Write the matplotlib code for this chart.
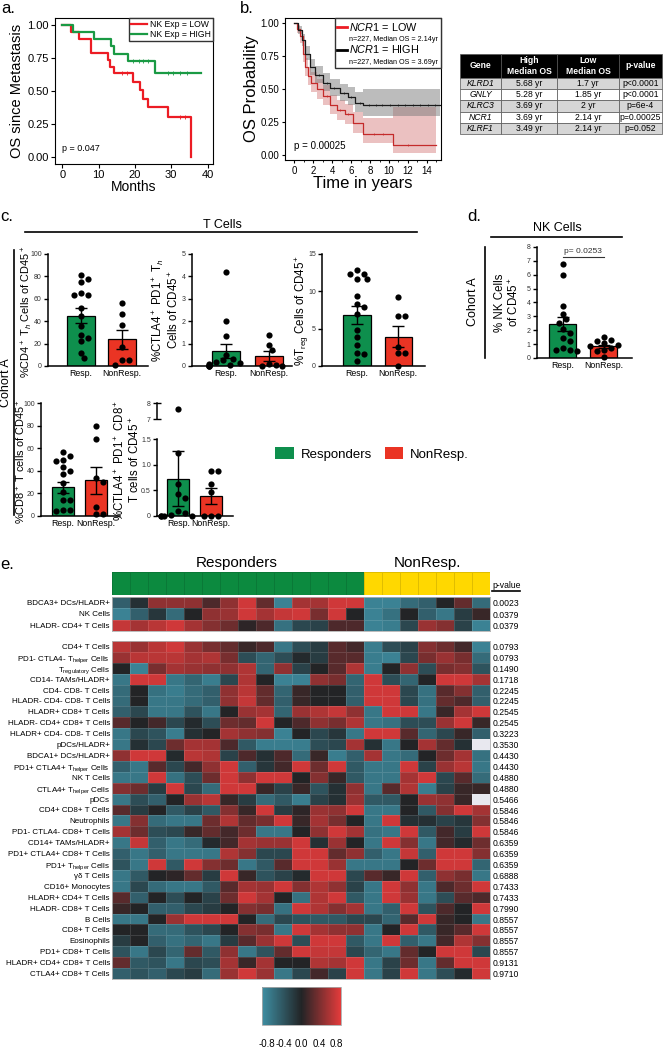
import numpy as np
import matplotlib
matplotlib.use('Agg')
import matplotlib.pyplot as plt
from matplotlib.colors import LinearSegmentedColormap, ListedColormap
from matplotlib.lines import Line2D
from matplotlib.patches import Patch

W, H = 663, 1050
plt.rcParams.update({'font.family': ['Liberation Sans', 'DejaVu Sans'],
                     'mathtext.fontset': 'custom',
                     'mathtext.rm': 'Liberation Sans',
                     'mathtext.it': 'Liberation Sans:italic',
                     'mathtext.bf': 'Liberation Sans:bold'})

KM_RED = '#ec1c24'
KM_GREEN = '#1a9a44'
RESP_GREEN = '#0e8f4d'
NONRESP_RED = '#ea3424'
HEAD_GREEN = '#0c8a3f'
HEAD_YELLOW = '#ffd800'

# ---- a. KM, NK expression ----
a_low_t = [0, 2.3, 4.7, 7.8, 12.5, 13.1, 14.3, 19.4, 21.4, 22.1, 23.7, 29.2, 35.4, 35.4]
a_low_s = [1.0, 0.947, 0.895, 0.789, 0.737, 0.684, 0.632, 0.568, 0.505, 0.442, 0.379, 0.303, 0.0, 0.0]
a_low_cens = [16.4, 17.7, 32.5, 33.9]
a_high_t = [0, 3.0, 8.6, 13.4, 14.3, 18.0, 25.6, 38.3]
a_high_s = [1.0, 0.947, 0.895, 0.842, 0.779, 0.725, 0.635, 0.635]
a_high_cens = [19.6, 21.0, 22.3, 23.7, 29.2, 30.6, 32.5, 34.3]

# ---- b. KM, NCR1 ----
b_low_t = [0, 0.3, 0.6, 0.9, 1.1, 1.4, 1.8, 2.35, 3.05, 3.75, 4.45, 5.3, 6.2, 7.2, 10.4, 15.0]
b_low_s = [1.0, 0.96, 0.90, 0.77, 0.67, 0.60, 0.55, 0.50, 0.45, 0.38, 0.345, 0.31, 0.245, 0.16, 0.08, 0.08]
b_low_lo = [1.0, 0.93, 0.85, 0.71, 0.60, 0.53, 0.48, 0.43, 0.38, 0.31, 0.27, 0.24, 0.17, 0.09, 0.02, 0.02]
b_low_hi = [1.0, 0.99, 0.95, 0.83, 0.74, 0.67, 0.63, 0.58, 0.53, 0.46, 0.42, 0.39, 0.33, 0.28, 0.37, 0.37]
b_low_cens = [3.4, 4.8, 5.7, 8.4, 9.4, 12.0]
b_high_t = [0, 0.4, 0.77, 1.1, 1.65, 2.2, 3.05, 3.75, 4.8, 5.7, 6.4, 7.3, 15.4]
b_high_s = [1.0, 0.95, 0.87, 0.77, 0.67, 0.61, 0.55, 0.51, 0.47, 0.445, 0.40, 0.385, 0.385]
b_high_lo = [1.0, 0.92, 0.83, 0.72, 0.61, 0.55, 0.49, 0.45, 0.41, 0.38, 0.33, 0.30, 0.30]
b_high_hi = [1.0, 0.98, 0.92, 0.83, 0.73, 0.68, 0.62, 0.58, 0.54, 0.52, 0.48, 0.50, 0.50]
b_high_cens = [2.6, 3.4, 4.2, 5.2, 6.0, 6.9, 7.9, 8.6, 9.3, 10.1, 10.9, 11.7, 12.5, 13.3, 14.1, 14.9]

# ---- table ----
tbl_header = ['Gene', 'High\nMedian OS', 'Low\nMedian OS', 'p-value']
tbl_genes = ['KLRD1', 'GNLY', 'KLRC3', 'NCR1', 'KLRF1']
tbl_high = ['5.68 yr', '5.28 yr', '3.69 yr', '3.69 yr', '3.49 yr']
tbl_low = ['1.7 yr', '1.85 yr', '2 yr', '2.14 yr', '2.14 yr']
tbl_p = ['p<0.0001', 'p<0.0001', 'p=6e-4', 'p=0.00025', 'p=0.052']

# ---- c./d. flow cytometry (Resp., NonResp.) ----
cd4_resp = [81, 78, 75, 65, 63, 63, 52, 45, 36, 28, 25, 22, 12, 7]
cd4_non = [56, 46, 37, 17, 5, 5, 0.5]
cd4_mean, cd4_sem = [45, 24], [7, 8.5]
ctla_th_resp = [4.2, 2.0, 1.35, 0.5, 0.3, 0.25, 0.2, 0.15, 0.1, 0.05, 0.05, 0.0, 0.0, 0.0]
ctla_th_non = [1.4, 0.95, 0.7, 0.1, 0.05, 0.0, 0.0]
ctla_th_mean, ctla_th_sem = [0.68, 0.43], [0.31, 0.22]
treg_resp = [12.9, 12.3, 12.3, 11.7, 11.6, 9.4, 8.3, 7.9, 6.9, 4.8, 3.9, 2.8, 1.7, 1.6, 0.7]
treg_non = [9.3, 6.7, 6.7, 2.6, 1.7, 1.7, 0.0]
treg_mean, treg_sem = [6.8, 3.9], [1.2, 1.4]
cd8_resp = [57, 53, 50, 49, 43, 40, 37, 29, 21, 14, 14, 5, 5, 4]
cd8_non = [80, 68, 34, 30, 8, 2, 2]
cd8_mean, cd8_sem = [25.5, 31.5], [5, 12]
ctla_cd8_resp = [7.6, 1.22, 0.63, 0.43, 0.35, 0.1, 0.05, 0.02, 0.0, 0.0, 0.0, 0.0]
ctla_cd8_non = [0.87, 0.87, 0.62, 0.47, 0.0, 0.0, 0.0]
ctla_cd8_mean, ctla_cd8_sem = [0.73, 0.385], [0.54, 0.155]
nk_resp = [6.75, 6.0, 3.75, 3.2, 2.8, 2.5, 2.1, 1.8, 1.45, 1.2, 0.7, 0.6, 0.55, 0.5]
nk_non = [1.5, 1.3, 1.2, 1.05, 0.95, 0.9, 0.75, 0.6, 0.5, 0.1]
nk_mean, nk_sem = [2.45, 0.85], [0.52, 0.12]

# ---- e. heatmap ----
n_resp, n_non = 14, 7
hm_top_labels = ['BDCA3+ DCs/HLADR+', 'NK Cells', 'HLADR- CD4+ T Cells']
hm_top_p = ['0.0023', '0.0379', '0.0379']
hm_top = [
    [-0.5, -0.1, 0.5, 0.5, 0.5, 0.2, 0.5, 0.8, 0.3, -0.8, 0.6, 0.6, 0.8, 0.8, -0.8, -0.8, -0.6, -0.5, 0.0, 0.3, -0.6],
    [-0.8, -0.5, -0.15, -0.6, 0.0, 0.5, 0.55, 0.8, 0.6, 0.75, 0.8, 0.4, 0.8, 0.0, -0.8, -0.65, 0.0, -0.5, -0.7, -0.2, 0.1],
    [0.75, 0.6, 0.7, 0.8, 0.6, 0.45, 0.35, 0.05, 0.2, -0.65, -0.3, -0.25, 0.2, 0.2, -0.8, -0.75, -0.3, 0.55, 0.45, -0.25, -0.8],
]
hm_main_labels = ['CD4+ T Cells', r'PD1- CTLA4- T$_{\mathrm{helper}}$ Cells', r'T$_{\mathrm{regulatory}}$ Cells',
                  'CD14- TAMs/HLADR+', 'CD4- CD8- T Cells', 'HLADR- CD4- CD8- T Cells', 'HLADR+ CD8+ T Cells',
                  'HLADR- CD4+ CD8+ T Cells', 'HLADR+ CD4- CD8- T Cells', 'pDCs/HLADR+', 'BDCA1+ DCs/HLADR+',
                  r'PD1+ CTLA4+ T$_{\mathrm{helper}}$ Cells', 'NK T Cells', r'CTLA4+ T$_{\mathrm{helper}}$ Cells',
                  'pDCs', 'CD4+ CD8+ T Cells', 'Neutrophils', 'PD1- CTLA4- CD8+ T Cells', 'CD14+ TAMs/HLADR+',
                  'PD1+ CTLA4+ CD8+ T Cells', r'PD1+ T$_{\mathrm{helper}}$ Cells', 'γδ T Cells', 'CD16+ Monocytes',
                  'HLADR+ CD4+ T Cells', 'HLADR- CD8+ T Cells', 'B Cells', 'CD8+ T Cells', 'Eosinophils',
                  'PD1+ CD8+ T Cells', 'HLADR+ CD4+ CD8+ T Cells', 'CTLA4+ CD8+ T Cells']
hm_main_p = ['0.0793', '0.0793', '0.1490', '0.1718', '0.2245', '0.2245', '0.2545', '0.2545', '0.3223', '0.3530',
             '0.4430', '0.4430', '0.4880', '0.4880', '0.5466', '0.5846', '0.5846', '0.5846', '0.6359', '0.6359',
             '0.6359', '0.6888', '0.7433', '0.7433', '0.7990', '0.8557', '0.8557', '0.8557', '0.8557', '0.9131',
             '0.9710']
nan = np.nan
hm_main = [
    [0.7, 0.55, 0.7, 0.8, 0.55, 0.4, 0.3, 0.1, 0.2, -0.7, -0.35, -0.2, 0.25, 0.15, -0.75, -0.35, -0.25, 0.45, 0.35, 0.15, -0.8],
    [0.55, 0.7, 0.7, 0.7, 0.6, 0.65, 0.4, -0.35, -0.55, -0.35, -0.05, -0.2, 0.25, 0.25, -0.75, -0.8, -0.3, 0.4, 0.55, 0.4, -0.6],
    [0.0, -0.8, 0.4, 0.6, 0.55, 0.5, 0.5, 0.65, -0.55, 0.5, -0.25, 0.0, 0.25, 0.65, -0.75, 0.0, 0.5, -0.35, 0.4, 0.45, -0.4],
    [-0.7, 0.8, 0.8, -0.7, -0.55, -0.75, -0.3, 0.65, 0.0, -0.8, -0.8, 0.5, 0.4, -0.55, 0.8, -0.35, -0.55, 0.0, 0.8, 0.8, 0.6],
    [-0.6, 0.0, -0.65, -0.75, -0.6, -0.5, 0.5, 0.7, 0.3, -0.55, 0.1, 0.0, 0.0, -0.5, 0.8, 0.8, -0.3, -0.65, 0.25, 0.45, -0.5],
    [-0.6, 0.0, -0.7, -0.7, -0.6, -0.5, 0.5, 0.75, 0.3, -0.5, 0.1, 0.0, 0.0, -0.5, 0.8, 0.8, -0.3, -0.65, 0.3, 0.2, -0.5],
    [-0.5, -0.3, -0.7, -0.7, -0.4, -0.7, 0.0, 0.55, 0.6, -0.55, 0.55, 0.65, 0.75, 0.5, -0.7, 0.8, 0.8, -0.7, 0.1, 0.6, 0.8],
    [0.25, 0.0, 0.15, -0.3, -0.05, -0.35, 0.35, 0.3, 0.8, 0.0, 0.2, 0.5, 0.4, 0.65, -0.7, -0.65, -0.35, -0.35, 0.55, 0.8, 0.1],
    [-0.7, -0.3, -0.4, -0.75, -0.1, 0.0, 0.6, 0.5, 0.45, -0.8, 0.0, -0.3, -0.15, -0.7, 0.8, 0.8, 0.25, -0.55, -0.3, 0.1, -0.5],
    [-0.7, -0.1, -0.3, 0.35, 0.6, 0.6, 0.2, -0.45, -0.75, -0.75, -0.75, -0.35, -0.3, 0.6, -0.1, -0.7, 0.0, 0.6, 0.3, -0.1, nan],
    [0.5, 0.8, 0.8, -0.05, 0.7, 0.65, -0.25, 0.2, -0.1, 0.2, -0.6, 0.1, -0.75, -0.5, 0.6, -0.7, -0.6, 0.0, 0.35, 0.6, -0.65],
    [-0.5, -0.7, 0.25, -0.3, 0.15, 0.5, 0.8, -0.5, -0.15, 0.15, 0.8, 0.35, 0.8, -0.45, -0.7, -0.7, 0.8, -0.25, 0.55, 0.7, -0.7],
    [-0.7, -0.7, 0.8, -0.65, -0.35, 0.35, 0.8, 0.5, 0.8, 0.8, 0.0, 0.45, 0.1, -0.45, -0.7, -0.7, 0.6, 0.8, -0.3, 0.25, -0.6],
    [0.45, 0.35, -0.2, 0.8, -0.3, -0.6, 0.8, 0.8, 0.1, -0.25, 0.1, -0.4, -0.1, 0.5, -0.7, 0.25, 0.65, -0.75, -0.25, 0.1, 0.1],
    [-0.7, -0.35, -0.5, 0.0, 0.55, 0.7, 0.1, -0.2, -0.6, -0.45, -0.75, -0.25, -0.1, 0.55, -0.45, -0.45, 0.0, 0.55, 0.5, 0.1, nan],
    [0.25, -0.2, 0.0, -0.45, -0.25, -0.45, 0.45, 0.1, 0.8, -0.2, 0.05, 0.55, 0.5, 0.8, -0.7, -0.7, 0.0, -0.45, 0.45, 0.8, 0.6],
    [-0.7, 0.45, -0.6, -0.7, -0.7, 0.35, 0.65, 0.3, 0.4, 0.8, 0.1, 0.6, 0.4, 0.0, -0.7, 0.8, -0.1, -0.1, -0.25, -0.15, 0.45],
    [0.6, 0.35, -0.35, -0.3, 0.1, 0.3, 0.15, 0.35, -0.7, -0.7, 0.0, 0.5, 0.8, 0.6, -0.65, -0.7, 0.8, -0.45, 0.15, -0.2, 0.8],
    [-0.7, 0.75, -0.5, -0.7, -0.6, -0.05, 0.15, 0.6, 0.55, 0.55, 0.8, -0.1, 0.55, 0.0, -0.7, 0.8, 0.45, -0.7, 0.15, -0.05, 0.35],
    [-0.5, -0.7, -0.5, -0.7, -0.7, -0.7, 0.65, 0.45, -0.3, -0.3, 0.8, 0.8, 0.3, 0.5, -0.5, -0.7, 0.75, -0.5, 0.8, 0.8, 0.45],
    [-0.4, -0.7, 0.8, -0.45, 0.8, 0.45, 0.35, -0.7, -0.45, 0.25, 0.8, 0.8, 0.55, -0.7, -0.7, -0.7, 0.0, 0.35, 0.8, 0.8, -0.55],
    [-0.7, -0.45, 0.0, 0.05, 0.3, -0.2, 0.8, 0.1, -0.4, -0.25, -0.05, 0.8, 0.8, -0.3, 0.25, 0.1, 0.8, -0.5, 0.5, 0.4, -0.7],
    [-0.7, -0.3, -0.6, -0.7, -0.7, -0.45, 0.25, 0.6, 0.55, 0.8, 0.45, 0.65, 0.5, -0.25, -0.7, 0.8, 0.5, -0.7, 0.2, 0.35, 0.8],
    [0.25, -0.5, 0.0, -0.35, 0.0, -0.25, 0.35, 0.8, 0.6, 0.0, -0.65, 0.65, 0.8, -0.45, -0.7, 0.8, 0.55, -0.7, -0.35, 0.25, 0.2],
    [0.1, 0.0, -0.5, -0.5, -0.3, -0.2, 0.0, 0.45, 0.4, -0.65, 0.8, 0.65, 0.45, 0.6, -0.7, -0.5, 0.8, -0.4, 0.2, 0.0, 0.8],
    [-0.7, -0.7, 0.0, 0.55, 0.8, 0.8, 0.8, 0.0, -0.6, -0.3, -0.4, -0.45, -0.45, -0.3, -0.3, -0.55, 0.25, 0.8, 0.1, 0.0, -0.7],
    [0.0, 0.0, -0.6, -0.6, -0.4, -0.3, 0.0, 0.45, 0.4, -0.7, 0.8, 0.6, 0.5, 0.5, -0.7, 0.0, 0.8, -0.45, 0.1, 0.25, 0.8],
    [-0.2, 0.0, -0.5, -0.65, -0.55, -0.7, -0.2, 0.25, 0.55, 0.8, -0.35, 0.8, 0.8, -0.45, -0.7, 0.8, -0.5, -0.7, 0.15, 0.65, 0.45],
    [-0.4, -0.7, -0.3, -0.55, 0.3, -0.45, 0.5, -0.7, -0.4, 0.3, 0.8, 0.75, 0.75, -0.3, -0.55, -0.7, 0.3, 0.0, 0.8, 0.8, -0.3],
    [0.3, -0.45, -0.4, -0.7, -0.3, -0.35, 0.6, 0.1, 0.6, 0.0, 0.0, 0.65, 0.6, 0.8, -0.7, -0.25, 0.35, -0.7, 0.3, 0.8, 0.8],
    [-0.5, -0.4, -0.5, -0.3, -0.2, -0.6, 0.55, 0.8, 0.55, -0.7, -0.3, 0.15, -0.25, 0.8, -0.7, -0.25, 0.8, -0.7, -0.35, -0.05, 0.8],
]

fig = plt.figure(figsize=(W / 100, H / 100), dpi=100)


def box(l, t, w, h):
    return fig.add_axes([l / W, 1 - (t + h) / H, w / W, h / H])


def ftext(x, y, s, **kw):
    return fig.text(x / W, 1 - y / H, s, **kw)


def fline(x0, y0, x1, y1, **kw):
    fig.add_artist(Line2D([x0 / W, x1 / W], [1 - y0 / H, 1 - y1 / H], color='k', lw=1.2, **kw))


def step_value(t, s, x):
    return s[np.searchsorted(t, x, side='right') - 1]


# ---------------- a ----------------
ax = box(55, 18, 158, 146)
ax.step(a_low_t, a_low_s, where='post', color=KM_RED, lw=1.6, label='NK Exp = LOW')
ax.step(a_high_t, a_high_s, where='post', color=KM_GREEN, lw=1.6, label='NK Exp = HIGH')
ax.plot(a_low_cens, [step_value(a_low_t, a_low_s, c) for c in a_low_cens], '|', color=KM_RED, ms=3, mew=0.6)
ax.plot(a_high_cens, [step_value(a_high_t, a_high_s, c) for c in a_high_cens], '|', color=KM_GREEN, ms=3, mew=0.6)
ax.set_xlim(-2, 41.5)
ax.set_ylim(-0.05, 1.05)
ax.set_xticks([0, 10, 20, 30, 40])
ax.set_yticks([0, 0.25, 0.5, 0.75, 1.0], ['0.00', '0.25', '0.50', '0.75', '1.00'])
ax.tick_params(labelsize=8, length=3, width=0.8, pad=1.5)
ax.set_xlabel('Months', fontsize=10, labelpad=0)
ax.set_ylabel('OS since Metastasis', fontsize=10.5, labelpad=2)
ax.text(0, 0.03, 'p = 0.047', fontsize=6.5, va='bottom')
ax.legend(loc='upper right', fontsize=6.2, handlelength=1.8, handletextpad=0.4, labelspacing=0.1,
          borderpad=0.25, borderaxespad=0, fancybox=False, edgecolor='#333333', framealpha=1)
for s in ax.spines.values():
    s.set_linewidth(0.8)
ftext(1, 1, 'a.', fontsize=12, va='top')

# ---------------- b ----------------
ax = box(285, 18, 156, 142)
ax.fill_between(b_low_t, b_low_lo, b_low_hi, step='post', color='#cc5c5c', alpha=0.38, lw=0)
ax.fill_between(b_high_t, b_high_lo, b_high_hi, step='post', color='#7a7a7a', alpha=0.5, lw=0)
ax.step(b_low_t, b_low_s, where='post', color='#c42a2a', lw=0.9)
ax.step(b_high_t, b_high_s, where='post', color='#1a1a1a', lw=0.9)
ax.plot(b_low_cens, [step_value(b_low_t, b_low_s, c) for c in b_low_cens], '|', color='#c42a2a', ms=2, mew=0.5)
ax.plot(b_high_cens, [step_value(b_high_t, b_high_s, c) for c in b_high_cens], '|', color='#1a1a1a', ms=2, mew=0.5)
ax.set_xlim(-1, 15.5)
ax.set_ylim(-0.035, 1.04)
ax.set_xticks(np.arange(0, 15, 2))
ax.set_xticks(np.arange(1, 16, 2), minor=True)
ax.set_yticks([0, 0.25, 0.5, 0.75, 1.0], ['0.00', '0.25', '0.50', '0.75', '1.00'])
ax.tick_params(labelsize=7, length=2.5, width=0.8, pad=1.5)
ax.tick_params(which='minor', length=1.5, width=0.6)
ax.set_xlabel('Time in years', fontsize=12, labelpad=0)
ax.set_ylabel('OS Probability', fontsize=12, labelpad=1)
ax.text(0, 0.03, 'p = 0.00025', fontsize=7, va='bottom')
handles = [Line2D([], [], color=KM_RED, lw=2), Line2D([], [], color='none'),
           Line2D([], [], color='k', lw=2), Line2D([], [], color='none')]
labels = [r'$\it{NCR1}$ = LOW', 'n=227, Median OS = 2.14yr', r'$\it{NCR1}$ = HIGH', 'n=227, Median OS = 3.69yr']
leg = ax.legend(handles, labels, loc='upper right', fontsize=7.8, handlelength=0.9, handletextpad=0.2,
                labelspacing=0.05, borderpad=0.25, borderaxespad=0, fancybox=False, edgecolor='#333333',
                framealpha=1)
for t in leg.get_texts()[1::2]:
    t.set_fontsize(5.2)
for s in ax.spines.values():
    s.set_linewidth(0.8)
ftext(240, 1, 'b.', fontsize=12, va='top')

# ---------------- table ----------------
ax = box(460, 54, 202, 80)
ax.axis('off')
rows = [[g, hi, lo, p] for g, hi, lo, p in zip(tbl_genes, tbl_high, tbl_low, tbl_p)]
tbl = ax.table(cellText=rows, colLabels=tbl_header, colWidths=[41, 56, 62, 43], cellLoc='center',
               bbox=[0, 0, 1, 1])
tbl.auto_set_font_size(False)
tbl.set_fontsize(6.2)
for (r, c), cell in tbl.get_celld().items():
    cell.set_edgecolor('#555555')
    cell.set_linewidth(0.5)
    if r == 0:
        cell.set_height(0.3)
        cell.set_facecolor('black')
        cell.get_text().set_color('white')
        cell.get_text().set_fontweight('bold')
    else:
        cell.set_height(0.14)
        cell.set_facecolor('#d6d6d6' if r % 2 == 1 else 'white')
        if c == 0:
            cell.get_text().set_fontstyle('italic')


# ---------------- c / d ----------------
def swarm(ax, x0, vals, dia=6.3):
    if len(vals) == 0:
        return
    vals = np.asarray(vals, dtype=float)
    pts = ax.transData.transform(np.column_stack([np.full(len(vals), x0), vals]))
    placed = []
    xs = np.zeros(len(vals))
    for i in np.argsort(-vals):
        y = pts[i, 1]
        for k in [0, 1, -1, 2, -2, 3, -3, 4, -4, 5, -5]:
            x = pts[i, 0] + k * dia * 0.55
            if all((x - px) ** 2 + (y - py) ** 2 >= (dia * 0.98) ** 2 for px, py in placed):
                break
        placed.append((x, y))
        xs[i] = x
    xd = ax.transData.inverted().transform(np.column_stack([xs, pts[:, 1]]))[:, 0]
    ax.scatter(xd, vals, s=20, color='black', zorder=3, clip_on=False, linewidths=0)


def style(ax, labelsize=5):
    for side in ['top', 'right']:
        ax.spines[side].set_visible(False)
    for side in ['left', 'bottom']:
        ax.spines[side].set_linewidth(1.1)
    ax.tick_params(axis='y', labelsize=labelsize, length=3, width=1.0, pad=1.5, labelcolor='#333333')
    ax.tick_params(axis='x', labelsize=6.3, length=0, pad=2)


def bar_panel(ax, resp, non, mean, sem, ylim, yticks, xlim, show_bars=True):
    ax.set_xlim(xlim)
    ax.set_ylim(ylim)
    if show_bars:
        ax.bar([0, 1], mean, width=0.66, color=[RESP_GREEN, NONRESP_RED], edgecolor='black', linewidth=0.9,
               zorder=1)
        ax.errorbar([0, 1], mean, yerr=sem, fmt='none', ecolor='black', elinewidth=1.0, capsize=4,
                    capthick=1.0, zorder=4)
    swarm(ax, 0, [v for v in resp if ylim[0] <= v <= ylim[1]])
    swarm(ax, 1, [v for v in non if ylim[0] <= v <= ylim[1]])
    ax.set_yticks(yticks)
    ax.set_xticks([0, 1], ['Resp.', 'NonResp.'])
    style(ax)


ftext(0, 209, 'c.', fontsize=12, va='top')
ftext(222, 225, 'T Cells', fontsize=9, ha='center', va='center')
fline(25, 232, 417, 232)
ftext(6, 383, 'Cohort A', fontsize=9, rotation=90, ha='center', va='center')
fline(14, 250, 14, 515)

ax = box(48, 254, 100, 112)
bar_panel(ax, cd4_resp, cd4_non, cd4_mean, cd4_sem, (0, 100), range(0, 101, 20), (-0.8, 1.63))
ax.set_ylabel(r'%CD4$^+$ T$_h$ Cells of CD45$^+$', fontsize=7.9)
ax.yaxis.set_label_coords(-0.13, 0.48)

ax = box(192, 254, 100, 112)
bar_panel(ax, ctla_th_resp, ctla_th_non, ctla_th_mean, ctla_th_sem, (0, 5), range(0, 6), (-0.8, 1.55))
ax.set_ylabel(r'%CTLA4$^+$ PD1$^+$ T$_h$' + '\n' + r'Cells of CD45$^+$', fontsize=8.3, linespacing=1.1)
ax.yaxis.set_label_coords(-0.11, 0.5)

ax = box(322, 254, 103, 112)
bar_panel(ax, treg_resp, treg_non, treg_mean, treg_sem, (0, 15), [0, 5, 10, 15], (-0.85, 1.65))
ax.set_ylabel(r'%T$_{\mathrm{reg}}$ Cells of CD45$^+$', fontsize=8.3)
ax.yaxis.set_label_coords(-0.11, 0.5)

ax = box(41, 403, 79, 113)
bar_panel(ax, cd8_resp, cd8_non, cd8_mean, cd8_sem, (0, 100), range(0, 101, 20), (-0.66, 1.72))
ax.set_ylabel(r'%CD8$^+$ T cells of CD45$^+$', fontsize=7.9)
ax.yaxis.set_label_coords(-0.17, 0.48)

ax = box(157, 439, 76, 77)
bar_panel(ax, ctla_cd8_resp, ctla_cd8_non, ctla_cd8_mean, ctla_cd8_sem, (0, 1.5), [0, 0.5, 1.0, 1.5],
          (-0.65, 1.68))
ax.set_yticklabels(['0', '0.5', '1.0', '1.5'])
ax_up = box(157, 403, 76, 16)
bar_panel(ax_up, ctla_cd8_resp, ctla_cd8_non, ctla_cd8_mean, ctla_cd8_sem, (7, 8), [7, 8], (-0.65, 1.68),
          show_bars=False)
ax_up.spines['bottom'].set_visible(False)
ax_up.set_xticks([])
ax_up.tick_params(axis='y', direction='inout', length=6)
ftext(128, 460, r'%CTLA4$^+$ PD1$^+$ CD8$^+$' + '\n' + r'T cells of CD45$^+$', fontsize=8.3, rotation=90,
      ha='center', va='center', linespacing=1.1)

fig.legend(handles=[Patch(facecolor=RESP_GREEN), Patch(facecolor=NONRESP_RED)], labels=['Responders', 'NonResp.'],
           ncol=2, loc='center', bbox_to_anchor=(372 / W, 1 - 454 / H), frameon=False, fontsize=9.5,
           handlelength=1.4, handleheight=1.0, columnspacing=1.0, handletextpad=0.5)

ftext(467, 209, 'd.', fontsize=12, va='top')
ftext(557, 228, 'NK Cells', fontsize=9, ha='center', va='center')
fline(491, 237, 622, 237)
ftext(473, 302, 'Cohort A', fontsize=9, rotation=90, ha='center', va='center')
fline(485, 247, 485, 358)
ax = box(537, 247, 95, 111)
bar_panel(ax, nk_resp, nk_non, nk_mean, nk_sem, (0, 8), range(0, 9), (-0.63, 1.69))
ax.set_ylabel('% NK Cells\n' + r'of CD45$^+$', fontsize=8.3, linespacing=1.1)
ax.yaxis.set_label_coords(-0.17, 0.5)
ax.plot([0, 1], [7.3, 7.3], color='#333333', lw=0.8)
ax.text(0.5, 7.4, 'p= 0.0253', fontsize=6, ha='center', va='bottom', color='#333333')

# ---------------- e ----------------
ftext(0, 557, 'e.', fontsize=12, va='top')
ftext(237, 563, 'Responders', fontsize=11, ha='center', va='center')
ftext(427, 563, 'NonResp.', fontsize=11, ha='center', va='center')

hm_cmap = LinearSegmentedColormap.from_list('tealblackred', ['#3e8ea2', '#222426', '#e43b3b'])
hm_cmap.set_bad('#e8e8ef')

ax = box(112, 572, 378, 23)
groups = np.array([[0] * n_resp + [1] * n_non])
ax.pcolormesh(groups, cmap=ListedColormap([HEAD_GREEN, HEAD_YELLOW]), vmin=0, vmax=1,
              edgecolors=(0, 0, 0, 0.12), linewidth=0.4)
ax.set_xticks([])
ax.set_yticks([])
for s in ax.spines.values():
    s.set_visible(False)
ftext(492, 585, 'p-value', fontsize=6.2, va='center')
fline(492, 591, 520, 591)


def heat_block(ax, data, labels, pvals):
    arr = np.ma.masked_invalid(np.array(data, dtype=float))
    n = arr.shape[0]
    mesh = ax.pcolormesh(arr, cmap=hm_cmap, vmin=-0.9, vmax=0.9, edgecolors=(1, 1, 1, 0.13), linewidth=0.4)
    ax.set_xlim(0, arr.shape[1])
    ax.set_ylim(n, 0)
    ax.set_xticks([])
    ax.set_yticks(np.arange(n) + 0.5, labels)
    ax.tick_params(axis='y', length=0, labelsize=5.8, pad=1.5)
    for s in ax.spines.values():
        s.set_edgecolor('#b0b0b0')
        s.set_linewidth(0.6)
    ax2 = ax.twinx()
    ax2.set_ylim(n, 0)
    ax2.set_yticks(np.arange(n) + 0.5, pvals)
    ax2.tick_params(axis='y', length=0, labelsize=6.2, pad=2)
    for s in ax2.spines.values():
        s.set_visible(False)
    return mesh


heat_block(box(112, 597, 378, 34), hm_top, hm_top_labels, hm_top_p)
mesh = heat_block(box(112, 641, 378, 338), hm_main, hm_main_labels, hm_main_p)

cax = box(262, 987, 79, 38)
cb = fig.colorbar(mesh, cax=cax, orientation='horizontal', ticks=[-0.8, -0.4, 0, 0.4, 0.8])
cb.ax.set_xticklabels(['-0.8', '-0.4', '0.0', '0.4', '0.8'])
cb.ax.tick_params(length=0, labelsize=7, pad=10)
cb.outline.set_edgecolor('#aaaaaa')
cb.outline.set_linewidth(0.6)

fig.savefig('out.png', dpi=100)
